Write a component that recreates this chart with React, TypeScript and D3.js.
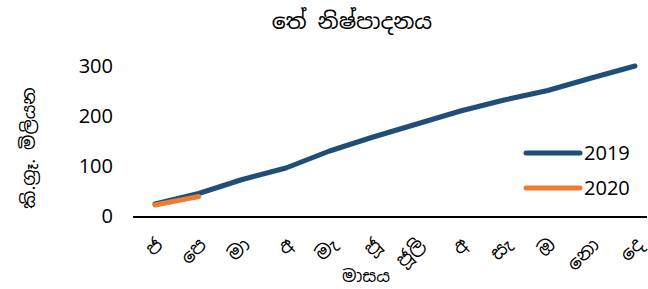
import { useEffect, useRef } from "react";
import * as d3 from "d3";

const months = ["ජ", "පෙ", "මා", "අ", "මැ", "ජූ", "ජූලි", "අ", "සැ", "ඔ", "නො", "දෙ"];
const values2019 = [24, 45, 73, 96, 130, 158, 184, 210, 232, 251, 276, 300];
const values2020 = [22, 39];
const yTicks = [0, 100, 200, 300];

const title = "තේ නිෂ්පාදනය";
const yTitle = "කි.ග්‍රෑ. මිලියන";
const xTitle = "මාසය";

const seriesColors = { "2019": "#1f4e79", "2020": "#ed7d31" };
const font = "'Noto Sans Sinhala', 'Noto Sans', 'DejaVu Sans', sans-serif";

export default function App() {
  const ref = useRef<SVGSVGElement>(null);

  useEffect(() => {
    if (!ref.current) return;
    const width = 648;
    const height = 289;
    const svg = d3.select(ref.current);
    svg.selectAll("*").remove();

    const axisLeft = 133;
    const axisRight = 647;

    // categories are spaced so the first/last points sit at 155 and 635
    const x = d3
      .scalePoint<number>()
      .domain(d3.range(months.length))
      .range([155, 635]);

    const y = d3.scaleLinear().domain([0, 300]).range([216, 66]);

    // title
    svg
      .append("text")
      .attr("x", 352)
      .attr("y", 29)
      .attr("text-anchor", "middle")
      .attr("font-family", font)
      .attr("font-size", 22)
      .attr("fill", "#000")
      .text(title);

    // y ticks
    svg
      .append("g")
      .selectAll("text")
      .data(yTicks)
      .join("text")
      .attr("x", 113)
      .attr("y", (d) => y(d))
      .attr("dy", "0.36em")
      .attr("text-anchor", "end")
      .attr("font-family", font)
      .attr("font-size", 20)
      .attr("fill", "#000")
      .text((d) => d);

    // y title
    svg
      .append("text")
      .attr("transform", `translate(35,${148}) rotate(-90)`)
      .attr("text-anchor", "middle")
      .attr("font-family", font)
      .attr("font-size", 18)
      .attr("fill", "#000")
      .text(yTitle);

    // x axis line
    svg
      .append("line")
      .attr("x1", axisLeft)
      .attr("x2", axisRight)
      .attr("y1", y(0) + 1)
      .attr("y2", y(0) + 1)
      .attr("stroke", "#000")
      .attr("stroke-width", 2);

    // x tick labels, rotated
    svg
      .append("g")
      .selectAll("text")
      .data(months)
      .join("text")
      .attr("transform", (_, i) => `translate(${(x(i) as number) - 1},${236}) rotate(-45)`)
      .attr("text-anchor", "end")
      .attr("dy", "0.75em")
      .attr("font-family", font)
      .attr("font-size", 19)
      .attr("fill", "#000")
      .text((d) => d);

    // x title
    svg
      .append("text")
      .attr("x", 366)
      .attr("y", 282)
      .attr("text-anchor", "middle")
      .attr("font-family", font)
      .attr("font-size", 17)
      .attr("fill", "#000")
      .text(xTitle);

    const line = d3
      .line<number>()
      .x((_, i) => x(i) as number)
      .y((d) => y(d));

    const series: [string, number[]][] = [
      ["2019", values2019],
      ["2020", values2020],
    ];

    svg
      .append("g")
      .selectAll("path")
      .data(series)
      .join("path")
      .attr("d", (d) => line(d[1]))
      .attr("fill", "none")
      .attr("stroke", (d) => seriesColors[d[0] as "2019" | "2020"])
      .attr("stroke-width", 5)
      .attr("stroke-linecap", "round")
      .attr("stroke-linejoin", "round");

    // legend
    const legend = svg
      .append("g")
      .selectAll("g")
      .data(series)
      .join("g")
      .attr("transform", (_, i) => `translate(526,${153 + i * 35})`);

    legend
      .append("line")
      .attr("x1", 0)
      .attr("x2", 54)
      .attr("stroke", (d) => seriesColors[d[0] as "2019" | "2020"])
      .attr("stroke-width", 5)
      .attr("stroke-linecap", "round");

    legend
      .append("text")
      .attr("x", 58)
      .attr("dy", "0.36em")
      .attr("font-family", font)
      .attr("font-size", 20)
      .attr("fill", "#000")
      .text((d) => d[0]);

    svg.attr("width", width).attr("height", height);
  }, []);

  return <svg ref={ref} style={{ position: "absolute", left: 0, top: 0 }} />;
}
